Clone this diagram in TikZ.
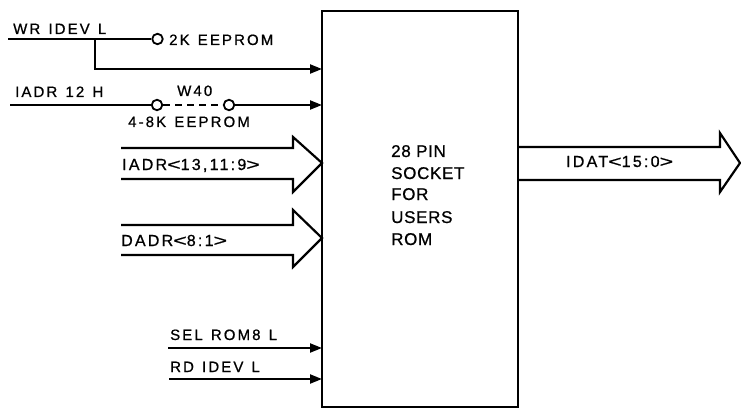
\documentclass[tikz,border=0pt]{standalone}
\usepackage{fontspec}
\usepackage{graphicx}
\setmainfont{Liberation Sans}
\newfontfamily\lblfont[LetterSpace=14,WordSpace=1.3,FakeBold=0.8]{Liberation Sans}
\newfontfamily\boxfont[LetterSpace=4,FakeBold=0.8]{Liberation Sans}
\newcommand\lbr{\scalebox{1.45}[1]{<}}
\newcommand\rbr{\scalebox{1.45}[1]{>}}
\usetikzlibrary{arrows.meta}
\tikzset{
  wire/.style={line width=2.1pt},
  sigarrow/.style={wire,-{Triangle[length=12pt,width=9pt]}},
  lbl/.style={anchor=base west,inner sep=0pt,font=\lblfont\fontsize{15pt}{17pt}\selectfont},
  buslbl/.style={lbl,font=\lblfont\fontsize{16pt}{18pt}\selectfont},
  boxlbl/.style={anchor=base west,inner sep=0pt,font=\boxfont\fontsize{17pt}{19pt}\selectfont},
  pin/.style={circle,draw,line width=1.8pt,minimum size=10.5pt,inner sep=0pt,fill=white},
  bus/.style={line width=2.2pt,line join=miter}
}
\begin{document}
\begin{tikzpicture}[x=1pt,y=-1pt]
\useasboundingbox (0,0) rectangle (741,409);
% main box
\draw[line width=2.6pt] (322,11) rectangle (518,407);
% box text
\node[boxlbl] (t1) at (391,157) {28 PIN};
\node[boxlbl] (t2) at (391,179) {SOCKET};
\node[boxlbl] (t3) at (391,200) {FOR};
\node[boxlbl] (t4) at (391,223) {USERS};
\node[boxlbl] (t5) at (391,245) {ROM};
% WR IDEV L
\coordinate (wrs) at (8,39);
\coordinate (wrb) at (95,39);
\coordinate (wrb2) at (95,69);
\coordinate (wre) at (322,69);
\node[pin] (c1) at (157.5,39) {};
\node[lbl] (wrl) at (13,34) {WR IDEV L};
\node[lbl] (ek2) at (169,45) {2K EEPROM};
\draw[wire] (wrs) -- (c1.west);
\draw[sigarrow] (wrb) -- (wrb2) -- (wre);
% IADR 12 H
\coordinate (ias) at (10,105);
\coordinate (iae) at (322,105);
\node[pin] (c2) at (157,105) {};
\node[pin] (c3) at (229,105) {};
\node[lbl] (ial) at (15,97) {IADR 12 H};
\node[lbl] (w40) at (177,96) {W40};
\node[lbl] (ek4) at (128,127) {4-8K EEPROM};
\draw[wire] (ias) -- (c2.west);
\draw[wire,dash pattern=on 7pt off 5pt] (c2.east) -- (c3.west);
\draw[sigarrow] (c3.east) -- (iae);
% bus IADR<13,11:9>
\draw[bus] (121,148) -- (293,148) -- (293,137) -- (322,163) -- (293,192) -- (293,179) -- (121,179);
\node[buslbl] (b1) at (122,170) {IADR\lbr13,11:9\rbr};
% bus DADR<8:1>
\draw[bus] (121,225) -- (293,225) -- (293,210) -- (322,238) -- (293,267) -- (293,255) -- (121,255);
\node[buslbl] (b2) at (121,246) {DADR\lbr8:1\rbr};
% bus IDAT<15:0>
\draw[bus] (518,147) -- (720,147) -- (720,133) -- (740,163) -- (720,192) -- (720,180) -- (518,180);
\node[buslbl] (b3) at (566,167) {IDAT\lbr15:0\rbr};
% SEL ROM8 L, RD IDEV L
\coordinate (ss) at (168,348);
\coordinate (se) at (322,348);
\coordinate (rs) at (169,379);
\coordinate (re) at (322,379);
\node[lbl] (sl) at (170,340) {SEL ROM8 L};
\node[lbl] (rl) at (170,372) {RD IDEV L};
\draw[sigarrow] (ss) -- (se);
\draw[sigarrow] (rs) -- (re);
\end{tikzpicture}
\end{document}
